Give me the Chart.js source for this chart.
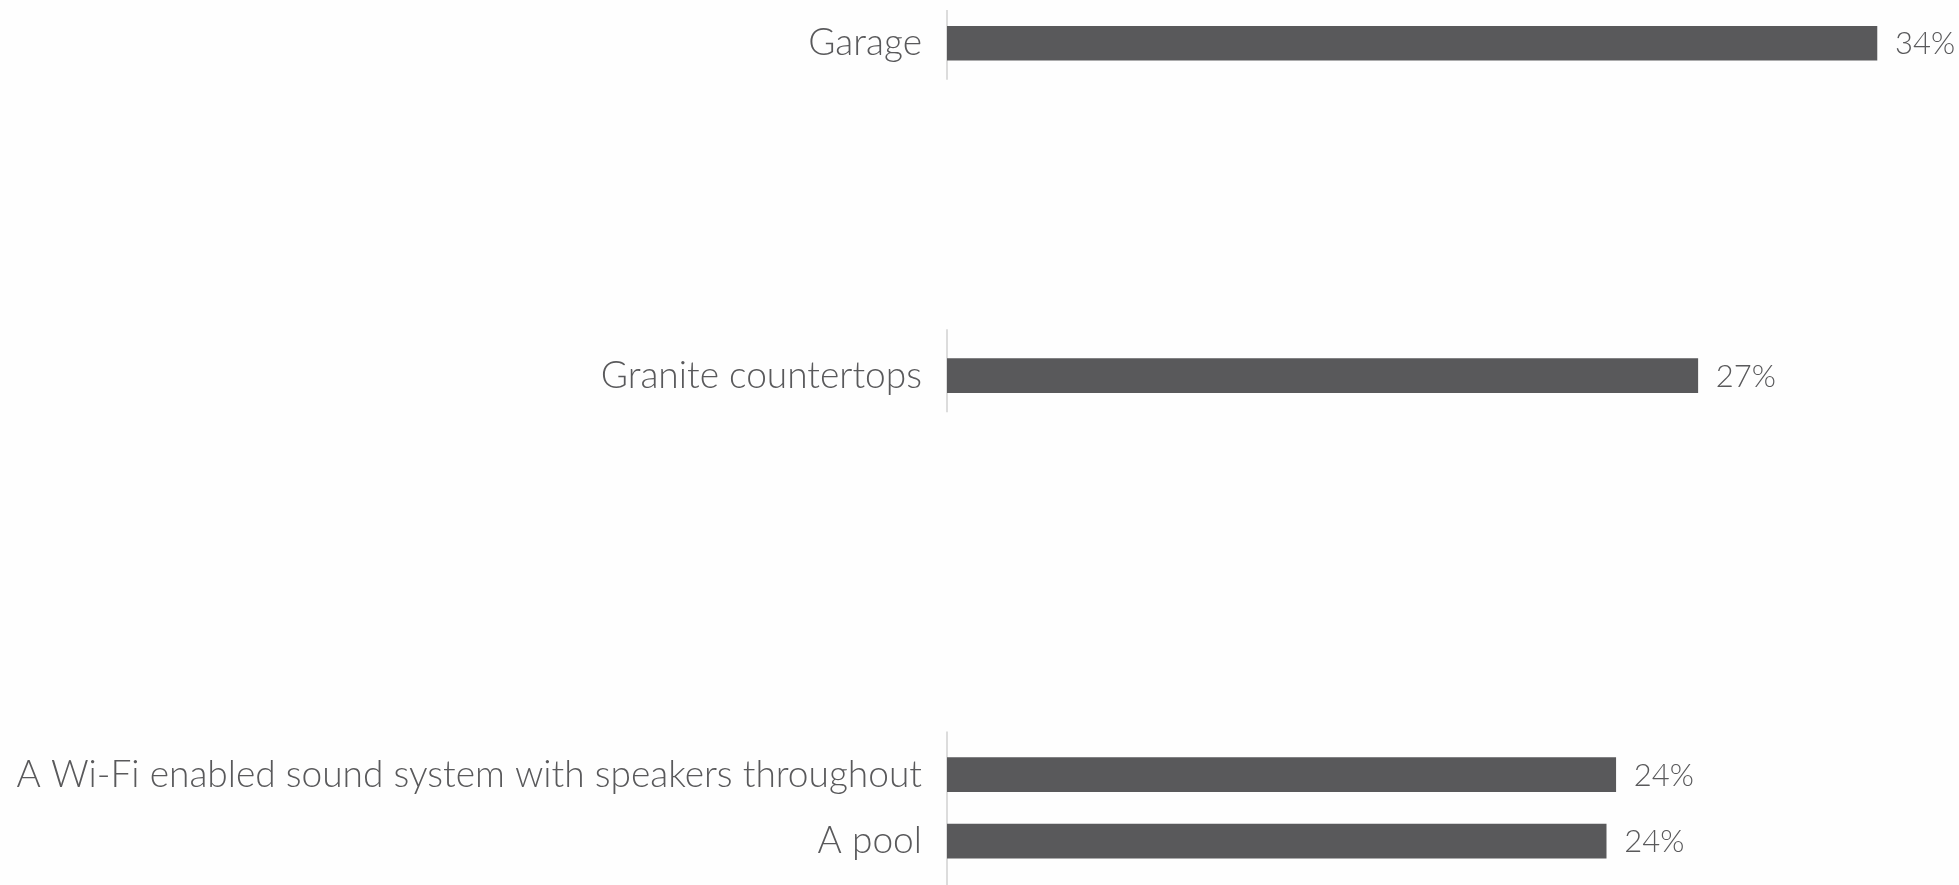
<!DOCTYPE html>
<html>
<head>
<meta charset="utf-8">
<script src="https://cdn.jsdelivr.net/npm/chart.js@4.4.1/dist/chart.umd.min.js"></script>
<style>
  html, body { margin: 0; padding: 0; background: #fefefe; }
  #wrap { width: 1959px; height: 885px; position: relative; }
</style>
</head>
<body>
<div id="wrap"><canvas id="chart"></canvas></div>
<script>
// ─── Data ─────────────────────────────────────────────────────────
const categories   = ['Garage', 'Granite countertops', 'A Wi-Fi enabled sound system with speakers throughout', 'A pool'];
const values       = [34, 27.45, 24.45, 24.1];
const rowPositions = [0, 5, 11, 12];                       // row slots on the vertical axis
const dividerSpans = [[-0.5, 0.55], [4.3, 5.55], [10.35, 12.7]]; // grey rule next to each group

const INK  = '#59595b';
const FONT = 'Lato, "Open Sans", sans-serif';

// grey vertical rules at the left edge of the plot, one per group
const dividers = {
  id: 'dividers',
  beforeDatasetsDraw(chart) {
    const { ctx, chartArea, scales: { y } } = chart;
    ctx.save();
    ctx.strokeStyle = '#dcdcdc';
    ctx.lineWidth = 2;
    dividerSpans.forEach(([a, b]) => {
      ctx.beginPath();
      ctx.moveTo(chartArea.left, y.getPixelForValue(a));
      ctx.lineTo(chartArea.left, y.getPixelForValue(b));
      ctx.stroke();
    });
    ctx.restore();
  }
};

// percentage labels after each bar
const valueLabels = {
  id: 'valueLabels',
  afterDatasetsDraw(chart) {
    const { ctx } = chart;
    const meta = chart.getDatasetMeta(0);
    ctx.save();
    ctx.fillStyle = INK;
    ctx.font = '300 31px ' + FONT;
    ctx.textAlign = 'left';
    ctx.textBaseline = 'middle';
    meta.data.forEach((bar, i) => {
      ctx.fillText(Math.round(values[i]) + '%', bar.x + 18, bar.y + 1);
    });
    ctx.restore();
  }
};

new Chart(document.getElementById('chart'), {
  type: 'bar',
  data: {
    datasets: [{
      data: values.map((v, i) => ({ x: v, y: rowPositions[i] })),
      backgroundColor: INK,
      borderWidth: 0,
      barThickness: 34,
    }],
  },
  options: {
    indexAxis: 'y',
    responsive: true, maintainAspectRatio: false,
    animation: false,
    layout: { padding: 0 },
    plugins: { legend: { display: false }, tooltip: { enabled: false } },
    scales: {
      x: { type: 'linear', display: false, min: 0, max: 37 },
      y: {
        type: 'linear', reverse: true, min: -0.65, max: 12.66, offset: false,
        grid: { display: false, drawTicks: false },
        border: { display: false },
        afterBuildTicks: axis => { axis.ticks = rowPositions.map(v => ({ value: v })); },
        afterFit: axis => { axis.width = 947; axis.paddingTop = 0; axis.paddingBottom = 0; },
        ticks: {
          autoSkip: false,
          padding: 25,
          color: INK,
          font: { family: FONT, size: 37.1, weight: '300' },
          callback: (v, i) => categories[i],
        },
      },
    },
  },
  plugins: [dividers, valueLabels],
});
</script>
</body>
</html>
